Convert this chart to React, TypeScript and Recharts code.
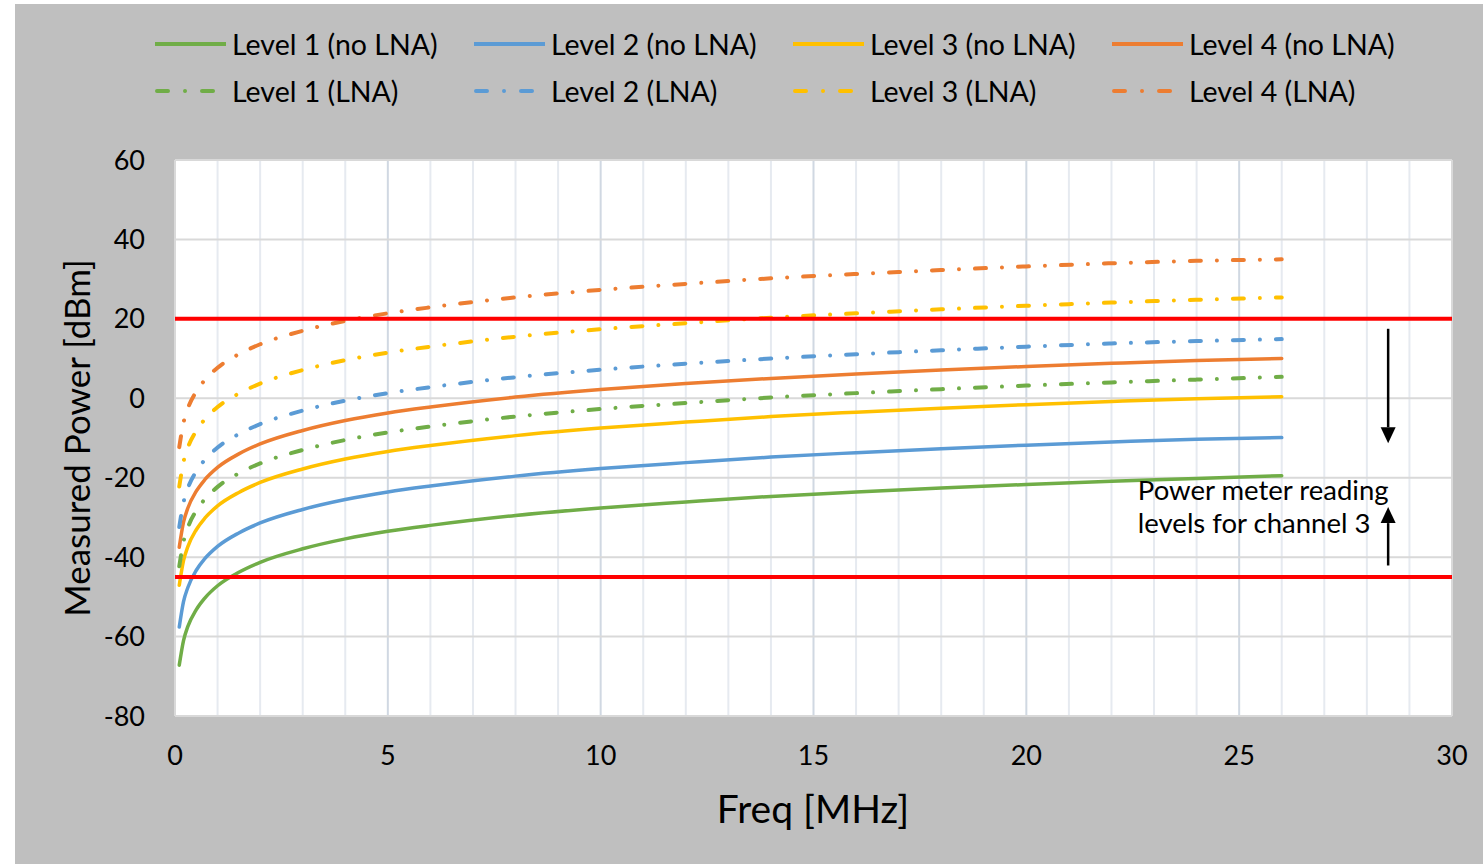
import React from 'react';
import { LineChart, Line, XAxis, YAxis, CartesianGrid, ReferenceLine, ReferenceDot, Label } from 'recharts';

// frequency points (MHz)
const freq = [0.1, 0.2, 0.3, 0.5, 0.7, 1, 1.5, 2, 3, 4, 5, 6, 8, 10, 12, 14, 16, 18, 20, 22, 24, 26];

const level1NoLna = [-67.2, -61.0, -57.5, -53.2, -50.3, -47.2, -43.8, -41.3, -37.9, -35.4, -33.5, -32.0, -29.5, -27.6, -26.1, -24.7, -23.6, -22.6, -21.7, -20.9, -20.2, -19.5];
const level2NoLna = [-57.6, -51.2, -47.7, -43.3, -40.4, -37.3, -33.9, -31.4, -28.0, -25.5, -23.6, -22.1, -19.6, -17.7, -16.2, -14.8, -13.7, -12.7, -11.8, -11.0, -10.3, -9.9];
const level3NoLna = [-47.1, -40.9, -37.4, -33.1, -30.2, -27.1, -23.7, -21.2, -17.8, -15.3, -13.4, -11.9, -9.4, -7.5, -6.0, -4.6, -3.5, -2.5, -1.6, -0.8, -0.1, 0.4];
const level4NoLna = [-37.5, -31.2, -27.7, -23.4, -20.5, -17.4, -14.0, -11.5, -8.1, -5.6, -3.7, -2.2, 0.3, 2.2, 3.7, 5.0, 6.1, 7.1, 8.0, 8.8, 9.5, 10.0];
const level1Lna = [-42.3, -36.1, -32.6, -28.3, -25.4, -22.3, -18.9, -16.4, -13.0, -10.5, -8.6, -7.1, -4.6, -2.7, -1.2, 0.2, 1.3, 2.3, 3.2, 4.0, 4.7, 5.4];
const level2Lna = [-32.4, -26.2, -22.7, -18.4, -15.5, -12.4, -9.0, -6.5, -3.1, -0.6, 1.3, 2.8, 5.3, 7.2, 8.7, 10.0, 11.1, 12.1, 13.0, 13.8, 14.4, 14.9];
const level3Lna = [-22.2, -16.0, -12.5, -8.2, -5.3, -2.2, 1.2, 3.7, 7.1, 9.6, 11.5, 13.0, 15.5, 17.4, 18.9, 20.3, 21.4, 22.4, 23.3, 24.1, 24.8, 25.4];
const level4Lna = [-12.3, -6.1, -2.6, 1.7, 4.6, 7.7, 11.1, 13.6, 17.0, 19.5, 21.4, 22.9, 25.4, 27.3, 28.8, 30.2, 31.3, 32.3, 33.2, 34.0, 34.6, 35.0];

const xTicks = [0, 5, 10, 15, 20, 25, 30];
const yTicks = [-80, -60, -40, -20, 0, 20, 40, 60];
const minorX = [1, 2, 3, 4, 6, 7, 8, 9, 11, 12, 13, 14, 16, 17, 18, 19, 21, 22, 23, 24, 26, 27, 28, 29];
const majorX = [5, 10, 15, 20, 25];

// power meter limits for channel 3
const limits = [20, -45];
const arrows = [
  { x: 28.5, from: 17.5, to: -11.3 },
  { x: 28.5, from: -42.1, to: -27.4 },
];
const noteLines = ['Power meter reading', 'levels for channel 3'];
const notePos = { x: 22.62, y: -25.7 };

const series = [
  { key: 'l1', name: 'Level 1 (no LNA)', color: '#70ad47', dashed: false, values: level1NoLna },
  { key: 'l2', name: 'Level 2 (no LNA)', color: '#5b9bd5', dashed: false, values: level2NoLna },
  { key: 'l3', name: 'Level 3 (no LNA)', color: '#ffc000', dashed: false, values: level3NoLna },
  { key: 'l4', name: 'Level 4 (no LNA)', color: '#ed7d31', dashed: false, values: level4NoLna },
  { key: 'l1l', name: 'Level 1 (LNA)', color: '#70ad47', dashed: true, values: level1Lna },
  { key: 'l2l', name: 'Level 2 (LNA)', color: '#5b9bd5', dashed: true, values: level2Lna },
  { key: 'l3l', name: 'Level 3 (LNA)', color: '#ffc000', dashed: true, values: level3Lna },
  { key: 'l4l', name: 'Level 4 (LNA)', color: '#ed7d31', dashed: true, values: level4Lna },
];

const data = freq.map((f, i) => {
  const row: Record<string, number> = { f };
  series.forEach((s) => { row[s.key] = s.values[i]; });
  return row;
});

const DASH = '11 16 0.01 16';

const Arrow = (props: any) => {
  const { x1, y1, x2, y2 } = props;
  const dir = y2 > y1 ? 1 : -1;
  const head = 16;
  return (
    <g>
      <line x1={x1} y1={y1} x2={x2} y2={y2 - dir * head} stroke="#000" strokeWidth={2.5} />
      <polygon points={`${x2 - 7.5},${y2 - dir * head} ${x2 + 7.5},${y2 - dir * head} ${x2},${y2}`} fill="#000" />
    </g>
  );
};

const Note = (props: any) => (
  <text x={props.cx} y={props.cy} fill="#000" fontSize={27.5} textAnchor="start">
    {noteLines.map((t, i) => (
      <tspan key={i} x={props.cx} dy={i === 0 ? 0 : 33}>{t}</tspan>
    ))}
  </text>
);

const YTitle = () => (
  <text x={76} y={438} transform="rotate(-90 76 438)" textAnchor="middle" dominantBaseline="central" fontSize={35} fill="#000">
    Measured Power [dBm]
  </text>
);

const XTitle = () => (
  <text x={813} y={823} textAnchor="middle" fontSize={39} fill="#000">
    Freq [MHz]
  </text>
);

const LegendBox = () => (
  <div style={{ position: 'absolute', left: 0, top: 0, width: 1483, height: 120 }}>
    {series.map((s, i) => {
      const col = i % 4;
      const row = Math.floor(i / 4);
      return (
        <div
          key={s.key}
          style={{ position: 'absolute', left: 155 + col * 319, top: 44 + row * 47 - 20, height: 40, display: 'flex', alignItems: 'center', whiteSpace: 'nowrap' }}
        >
          <svg width={71} height={10} style={{ display: 'block' }}>
            <line
              x1={s.dashed ? 2 : 0}
              y1={5}
              x2={s.dashed ? 67 : 71}
              y2={5}
              stroke={s.color}
              strokeWidth={4}
              strokeLinecap={s.dashed ? 'round' : 'butt'}
              strokeDasharray={s.dashed ? '11 17 0.01 17' : undefined}
            />
          </svg>
          <span style={{ marginLeft: 6, fontSize: 28.5, color: '#000' }}>{s.name}</span>
        </div>
      );
    })}
  </div>
);

export default function App() {
  return (
    <div style={{ position: 'absolute', left: 0, top: 0, width: 1483, height: 864, background: '#fff', fontFamily: 'Lato, sans-serif', overflow: 'hidden' }}>
      <div style={{ position: 'absolute', left: 15, top: 4, width: 1468, height: 860, background: '#bfbfbf' }} />
      <div style={{ position: 'absolute', left: 0, top: 0 }}>
        <LineChart width={1483} height={864} data={data} margin={{ top: 160, right: 31, bottom: 48, left: 75 }}>
          <CartesianGrid fill="#ffffff" stroke="#e6eaf0" strokeWidth={2} horizontal={false} verticalValues={minorX} />
          <CartesianGrid stroke="#d0d8e2" strokeWidth={2} horizontal={false} verticalValues={majorX} fill="none" />
          <CartesianGrid stroke="#d9d9d9" strokeWidth={2} vertical={false} horizontalValues={yTicks} fill="none" />
          <CartesianGrid stroke="#d9d9d9" strokeWidth={2} horizontal={false} verticalValues={[0, 30]} fill="none" />
          <XAxis
            dataKey="f"
            type="number"
            domain={[0, 30]}
            ticks={xTicks}
            axisLine={false}
            tickLine={false}
            tickSize={0}
            tickMargin={30}
            height={100}
            tick={{ fill: '#000', fontSize: 27 }}
            interval={0}
          >
            <Label content={<XTitle />} />
          </XAxis>
          <YAxis
            type="number"
            domain={[-80, 60]}
            ticks={yTicks}
            axisLine={false}
            tickLine={false}
            tickSize={0}
            tickMargin={30}
            width={100}
            tick={{ fill: '#000', fontSize: 27 }}
            interval={0}
          >
            <Label content={<YTitle />} />
          </YAxis>
          {series.map((s) => (
            <Line
              key={s.key}
              dataKey={s.key}
              name={s.name}
              type="monotone"
              stroke={s.color}
              strokeWidth={s.dashed ? 4 : 3.5}
              strokeDasharray={s.dashed ? DASH : undefined}
              strokeLinecap="round"
              dot={false}
              activeDot={false}
              isAnimationActive={false}
            />
          ))}
          {limits.map((v) => (
            <ReferenceLine key={v} y={v} stroke="#ff0000" strokeWidth={4} />
          ))}
          {arrows.map((a, i) => (
            <ReferenceLine
              key={`arrow-${i}`}
              segment={[{ x: a.x, y: a.from }, { x: a.x, y: a.to }]}
              shape={<Arrow />}
            />
          ))}
          <ReferenceDot x={notePos.x} y={notePos.y} r={0} shape={<Note />} />
        </LineChart>
      </div>
      <LegendBox />
    </div>
  );
}
